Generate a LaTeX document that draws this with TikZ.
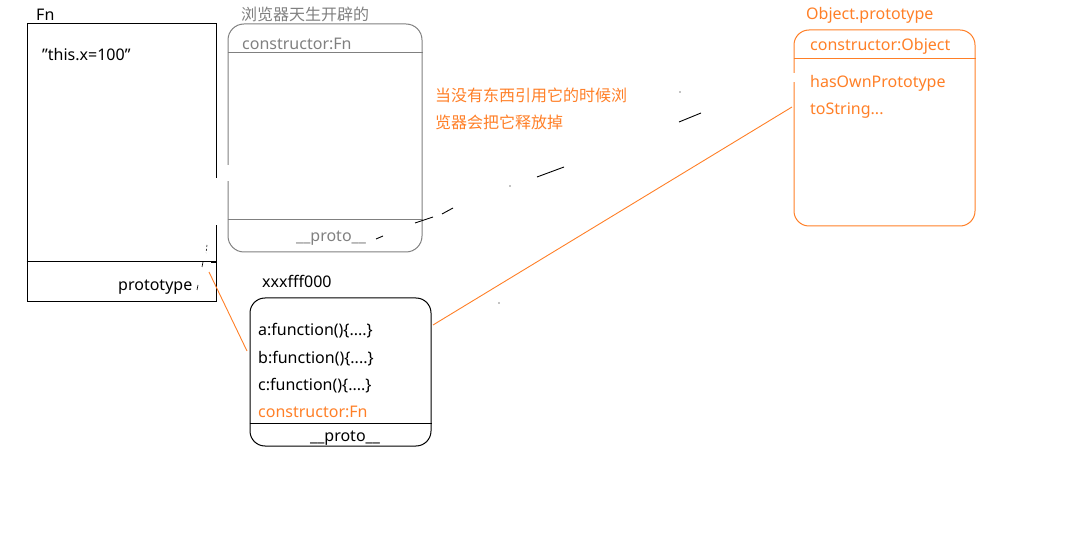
\documentclass[tikz,border=0pt]{standalone}
\usepackage{fontspec}
\setmainfont{Noto Sans}
\newfontfamily\cjk{Noto Sans CJK SC}
\definecolor{org}{RGB}{255,127,39}
\definecolor{gry}{RGB}{128,128,128}
\tikzset{
  lbl/.style={inner sep=0pt, anchor=base west, yshift=-6pt, font=\fontsize{16}{19}\selectfont},
  cjklbl/.style={lbl, font=\fontsize{16}{19}\selectfont\cjk},
  boxa/.style={draw, line width=1pt, inner sep=0pt},
  stray/.style={draw=black, line width=0.9pt},
  faint/.style={draw=black, line width=0.6pt},
  link/.style={draw=org, line width=0.9pt}
}
\begin{document}
\begin{tikzpicture}[x=1pt,y=-1pt]
\useasboundingbox (0,0) rectangle (1080,540);
% Fn box
\node[boxa, minimum width=189pt, minimum height=278pt] (fn) at (121.5,163) {};
\draw[line width=1pt] (fn.west |- 0,262) -- (fn.east |- 0,262);
\fill[white] (214,178) rectangle (218,225);
\node[lbl] (fnt) at (36,15) {Fn};
\node[lbl] (thisx) at (42,55) {\char"0022 this.x=100\char"0022};
\node[lbl] (proto1) at (118,285) {prototype};
% browser-created box
\node[boxa, draw=gry, rounded corners=16pt, minimum width=194pt, minimum height=228pt] (br) at (325,138) {};
\draw[gry, line width=1pt] (br.west |- 0,53) -- (br.east |- 0,53);
\draw[gry, line width=1pt] (br.west |- 0,220) -- (br.east |- 0,220);
\fill[white] (226,165) rectangle (230,181);
\node[cjklbl, text=gry] (brt) at (241,15) {浏览器天生开辟的};
\node[lbl, text=gry] (brc) at (242,44) {constructor:Fn};
\node[lbl, text=gry] (brp) at (296,236) {\_\_proto\_\_};
% note
\node[cjklbl, text=org] (n1) at (435,96) {当没有东西引用它的时候浏};
\node[cjklbl, text=org] (n2) at (435,123) {览器会把它释放掉};
% Object.prototype box
\node[boxa, draw=org, rounded corners=15pt, minimum width=181pt, minimum height=196pt] (op) at (884.5,128) {};
\draw[org, line width=1pt] (op.west |- 0,59) -- (op.east |- 0,59);
\fill[white] (792,73) rectangle (796,82);
\node[lbl, text=org] (opt) at (806,14) {Object.prototype};
\node[lbl, text=org] (opc) at (810,45) {constructor:Object};
\node[lbl, text=org] (oph) at (810,82) {hasOwnPrototype};
\node[lbl, text=org] (ops) at (810,109) {toString...};
% xxxfff000 box
\node[lbl] (xt) at (262,282) {xxxfff000};
\node[boxa, rounded corners=15pt, minimum width=181pt, minimum height=148pt] (xb) at (340.5,372) {};
\draw[line width=1pt] (xb.west |- 0,423) -- (xb.east |- 0,423);
\node[lbl] (fa) at (258,330) {a:function()\{....\}};
\node[lbl] (fb) at (258,357) {b:function()\{....\}};
\node[lbl] (fc) at (258,384) {c:function()\{....\}};
\node[lbl, text=org] (fd) at (258,411) {constructor:Fn};
\node[lbl] (xp) at (310,435) {\_\_proto\_\_};
% connectors
\coordinate (pa) at (209,272);
\coordinate (pb) at (247,351);
\coordinate (qa) at (433,325);
\coordinate (qb) at (792,107);
\draw[link] (pa) -- (pb);
\draw[link] (qa) -- (qb);
% stray marks
\draw[stray] (415,223) -- (433,217);
\draw[stray] (442,214) -- (453,208);
\draw[stray] (537,177) -- (564,167);
\draw[stray] (679,122) -- (701,113);
\draw[stray] (376,239) -- (383,236);
\draw[faint, dash pattern=on 2pt off 2pt] (207,245) -- (206,253);
\draw[faint] (203,262) -- (202,267);
\draw[faint] (211,262) -- (217,262);
\draw[faint] (198,285) -- (197,290);
\fill (510,186) circle (0.6);
\fill (680,92) circle (0.6);
\fill (499,303) circle (0.6);
\end{tikzpicture}
\end{document}
